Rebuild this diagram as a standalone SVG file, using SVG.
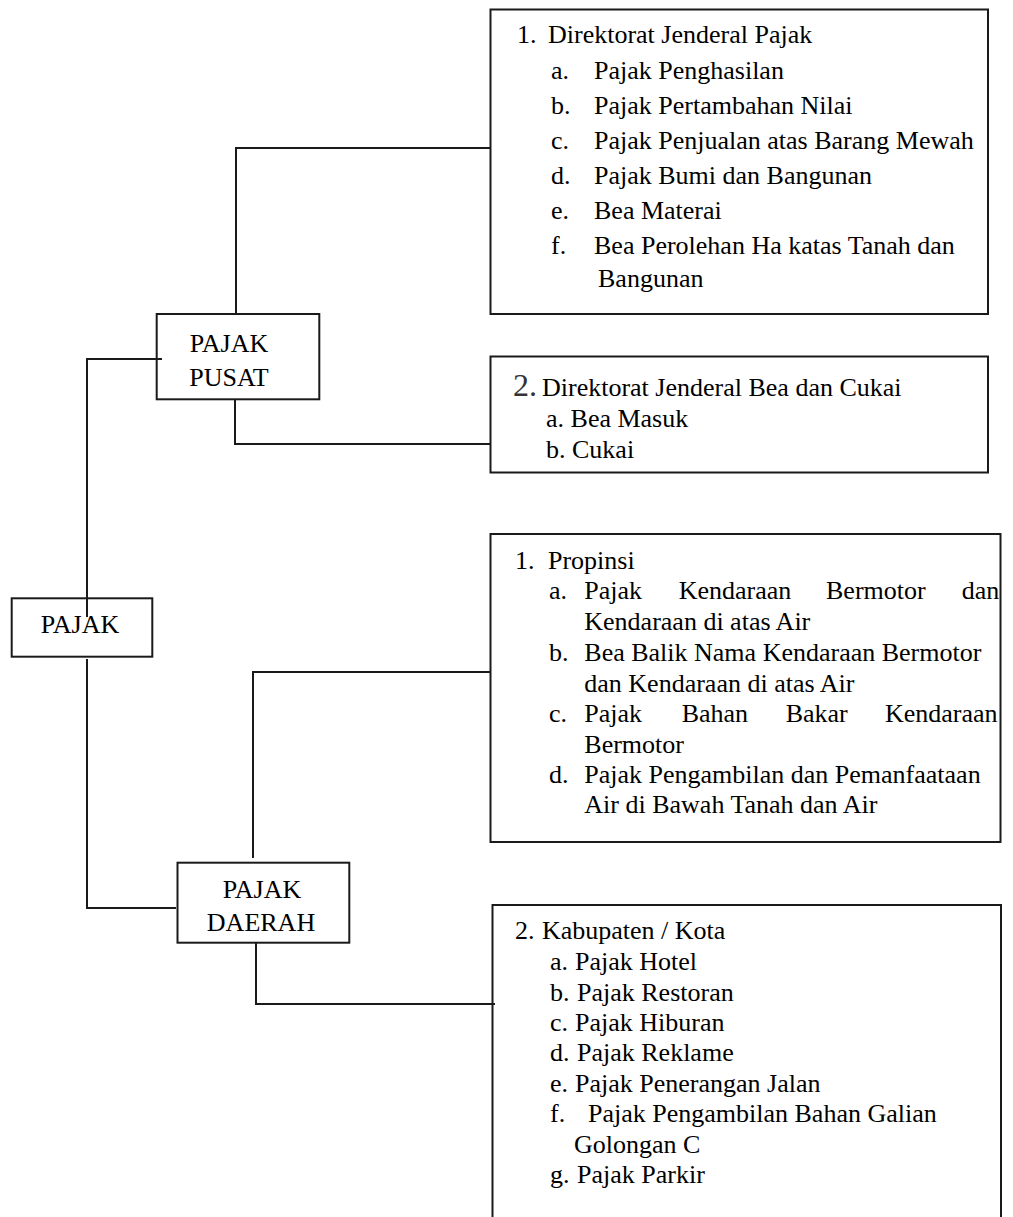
<svg xmlns="http://www.w3.org/2000/svg" width="1013" height="1217" viewBox="0 0 1013 1217">
<style>
  .box { fill: #fff; stroke: #1a1a1a; stroke-width: 2; }
  .conn { fill: none; stroke: #1a1a1a; stroke-width: 2; }
  text { font-family: "Liberation Serif", "Times New Roman", serif; font-size: 26px; fill: #000; }
  .lbl { text-anchor: middle; }
  .big { font-size: 32px; fill: #333; }
</style>
<rect width="1013" height="1217" fill="#fff"/>

<g id="node-pajak">
  <rect class="box" x="11.7" y="598.3" width="140.6" height="58.4"/>
  <text class="lbl" x="80" y="633">PAJAK</text>
</g>

<g id="node-pajak-pusat">
  <rect class="box" x="156.7" y="314" width="162.6" height="85.3"/>
  <text class="lbl" x="229" y="352">PAJAK</text>
  <text class="lbl" x="229" y="386">PUSAT</text>
</g>

<g id="node-pajak-daerah">
  <rect class="box" x="177.5" y="862.7" width="171.8" height="80"/>
  <text class="lbl" x="262" y="898">PAJAK</text>
  <text class="lbl" x="261" y="931">DAERAH</text>
</g>

<g id="node-djp">
  <rect class="box" x="490.5" y="9.5" width="497.5" height="304.5"/>
  <text x="517" y="43">1.</text>
  <text x="548" y="43">Direktorat Jenderal Pajak</text>
  <text x="551" y="79">a.</text><text x="594" y="79">Pajak Penghasilan</text>
  <text x="551" y="114">b.</text><text x="594" y="114">Pajak Pertambahan Nilai</text>
  <text x="551" y="149">c.</text><text x="594" y="149">Pajak Penjualan atas Barang Mewah</text>
  <text x="551" y="184">d.</text><text x="594" y="184">Pajak Bumi dan Bangunan</text>
  <text x="551" y="219">e.</text><text x="594" y="219">Bea Materai</text>
  <text x="551" y="254">f.</text><text x="594" y="254">Bea Perolehan Ha katas Tanah dan</text>
  <text x="598" y="287">Bangunan</text>
</g>

<g id="node-djbc">
  <rect class="box" x="490.5" y="356.5" width="497.5" height="116"/>
  <text class="big" x="513" y="396">2.</text>
  <text x="542" y="396">Direktorat Jenderal Bea dan Cukai</text>
  <text x="546" y="427">a. Bea Masuk</text>
  <text x="546" y="458">b. Cukai</text>
</g>

<g id="node-propinsi">
  <rect class="box" x="490.5" y="534" width="510" height="308"/>
  <text x="515" y="569">1.</text>
  <text x="548" y="569">Propinsi</text>
  <text x="549" y="599">a.</text>
  <text y="599"><tspan x="584.3">Pajak</tspan><tspan x="678.7">Kendaraan</tspan><tspan x="826">Bermotor</tspan><tspan x="961.7">dan</tspan></text>
  <text x="584.3" y="630">Kendaraan di atas Air</text>
  <text x="549" y="661">b.</text>
  <text x="584.3" y="661">Bea Balik Nama Kendaraan Bermotor</text>
  <text x="584.3" y="692">dan Kendaraan di atas Air</text>
  <text x="549" y="722">c.</text>
  <text y="722"><tspan x="584.3">Pajak</tspan><tspan x="681.7">Bahan</tspan><tspan x="785.7">Bakar</tspan><tspan x="885">Kendaraan</tspan></text>
  <text x="584.3" y="753">Bermotor</text>
  <text x="549" y="783">d.</text>
  <text x="584.3" y="783">Pajak Pengambilan dan Pemanfaataan</text>
  <text x="584.3" y="813">Air di Bawah Tanah dan Air</text>
</g>

<g id="node-kabupaten">
  <rect class="box" x="492.5" y="905" width="508.5" height="330"/>
  <text x="515" y="939">2.</text>
  <text x="542" y="939">Kabupaten / Kota</text>
  <text x="550" y="970">a.</text><text x="575" y="970">Pajak Hotel</text>
  <text x="550" y="1001">b.</text><text x="577" y="1001">Pajak Restoran</text>
  <text x="550" y="1031">c.</text><text x="575" y="1031">Pajak Hiburan</text>
  <text x="550" y="1061">d.</text><text x="577" y="1061">Pajak Reklame</text>
  <text x="550" y="1092">e.</text><text x="575" y="1092">Pajak Penerangan Jalan</text>
  <text x="550" y="1122">f.</text><text x="588" y="1122">Pajak Pengambilan Bahan Galian</text>
  <text x="574" y="1153">Golongan C</text>
  <text x="550" y="1183">g.</text><text x="577" y="1183">Pajak Parkir</text>
</g>

<g id="connectors">
  <path class="conn" d="M87,617 V359 H162"/>
  <path class="conn" d="M87,659 V908 H176"/>
  <path class="conn" d="M236,314 V148 H490"/>
  <path class="conn" d="M235,399 V444 H490"/>
  <path class="conn" d="M253,858 V672 H490"/>
  <path class="conn" d="M256,943 V1004 H495"/>
</g>
</svg>
